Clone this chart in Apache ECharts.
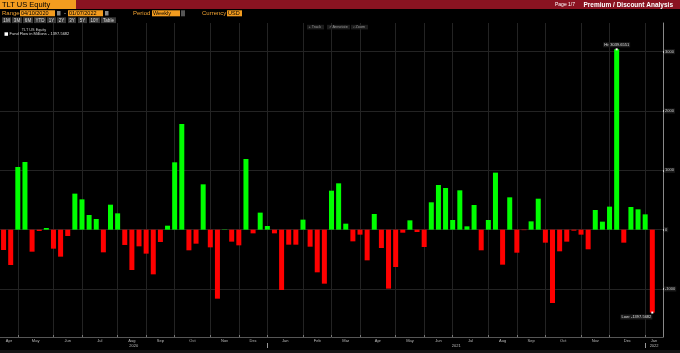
<!DOCTYPE html>
<html><head><meta charset="utf-8">
<script src="https://cdn.jsdelivr.net/npm/echarts@6/dist/echarts.min.js"></script>
<style>html,body{margin:0;padding:0;background:#000;}#c{width:680px;height:353px;}</style>
</head><body><div id="c"></div>
<script>
// ---- data ----
const startDate = '2020-04-10';           // first weekly bar (Friday)
const flows = [
  -343, -596, 1056, 1140, -371, -22, 28, -320, -455, -107,
  607, 511, 247, 180, -382, 421, 275, -258, -680, -281,
  -404, -753, -208, 67, 1135, 1781, -348, -236, 764, -298,
  -1163, 5, -202, -264, 1191, -62, 287, 62, -62, -1017,
  -253, -253, 169, -287, -719, -910, 657, 781, 101, -197,
  -84, -517, 264, -309, -994, -629, -51, 157, -39, -292,
  461, 753, 702, 163, 663, 56, 416, -348, 163, 961,
  -590, 545, -388, -8, 140, 522, -219, -1236, -365, -202,
  -17, -84, -331, 331, 135, 388, 3039.6551, -219, 382, 343,
  258, -1397.5682
];
const yTicks = [-1000, 0, 1000, 2000, 3000];
const monthNames = ['Jan','Feb','Mar','Apr','May','Jun','Jul','Aug','Sep','Oct','Nov','Dec'];
const periodButtons = ['1M','3M','6M','YTD','1Y','2Y','3Y','5Y','10Y','Table'];
const legendTitle = 'TLT US Equity';
const legendText = 'Fund Flow in Millions - 1397.5682';

// ---- derived categories (weekly, one spare slot at the end) ----
const DAY = 86400000;
const t0 = new Date(startDate + 'T00:00:00Z').getTime();
const dates = [];
for (let i = 0; i < flows.length + 1; i++) dates.push(new Date(t0 + i * 7 * DAY));
const cats = dates.map(d => d.toISOString().slice(0, 10));
const N = cats.length;

const monthBounds = [], yearBounds = [];
for (let i = 0; i < N - 1; i++) {
  if (dates[i + 1].getUTCMonth() !== dates[i].getUTCMonth()) monthBounds.push(i);
  if (dates[i + 1].getUTCFullYear() !== dates[i].getUTCFullYear()) yearBounds.push(i);
}
function spans(bounds, nameOf) {
  const b = [-0.5].concat(bounds, [N - 0.5]);
  const mids = [], map = {};
  for (let k = 0; k < b.length - 1; k++) {
    const m = (b[k] + b[k + 1]) / 2;
    mids.push(m);
    map[String(m)] = nameOf(dates[Math.floor(b[k]) + 1]);
  }
  return { mids, map };
}
const months = spans(monthBounds, d => monthNames[d.getUTCMonth()]);
const years = spans(yearBounds, d => String(d.getUTCFullYear()));

const FF = '"Liberation Sans", Arial, sans-serif';
const chart = echarts.init(document.getElementById('c'));
const gridRect = { left: 0, right: 17, top: 23, bottom: 16, containLabel: false, outerBoundsMode: 'none' };

// ---- header graphics ----
const g = [];
function rect(x, y, w, h, fill) { g.push({ type: 'rect', z: 100, shape: { x, y, width: w, height: h }, style: { fill } }); }
function text(x, y, s, font, fill, align) { g.push({ type: 'text', z: 101, x, y, style: { text: s, font, fill, align: align || 'left', verticalAlign: 'middle' } }); }
rect(0, 0, 680, 9, '#8a1321');
rect(0, 0, 76, 9, '#f39c1f');
text(2, 4.8, 'TLT US Equity', '7.5px ' + FF, '#000');
text(575, 5, 'Page 1/7', '5px ' + FF, '#fff', 'right');
text(673, 4.8, 'Premium / Discount Analysis', 'bold 6.5px ' + FF, '#fff', 'right');
// row 2
const ORANGE_TXT = '#f0a232';
text(2, 13.2, 'Range', '6px ' + FF, ORANGE_TXT);
rect(20, 10.3, 35, 6, '#f39c1f'); text(21, 13.4, '04/10/2020', '5.5px ' + FF, '#000');
rect(57, 11, 3.5, 4.5, '#888');
text(64, 13.2, '-', '6px ' + FF, '#ccc');
rect(68, 10.3, 35, 6, '#f39c1f'); text(69, 13.4, '01/07/2022', '5.5px ' + FF, '#000');
rect(105, 11, 3.5, 4.5, '#888');
text(133, 13.2, 'Period', '6px ' + FF, ORANGE_TXT);
rect(152, 10.3, 28, 6, '#f39c1f'); text(153, 13.4, 'Weekly', '5.5px ' + FF, '#000');
rect(181, 10.3, 4, 6, '#555');
text(202, 13.2, 'Currency', '6px ' + FF, ORANGE_TXT);
rect(227, 10.3, 15, 6, '#f39c1f'); text(228, 13.4, 'USD', '5.5px ' + FF, '#000');
// row 3 buttons
const btnX = [2, 12, 23, 34, 47, 57, 68, 78, 89, 101];
const btnW = [9, 10, 10, 12, 9, 9, 8, 9, 11, 15];
periodButtons.forEach((b, i) => {
  rect(btnX[i], 17.3, btnW[i], 5.8, '#3a3a3a');
  g.push({ type: 'text', z: 101, x: btnX[i] + btnW[i] / 2, y: 20.3, style: { text: b, font: '4.5px ' + FF, fill: '#ddd', align: 'center', verticalAlign: 'middle' } });
});
// legend
g.push({ type: 'text', z: 101, x: 34, y: 29.5, style: { text: legendTitle, font: '3.8px ' + FF, fill: '#ccc', align: 'center', verticalAlign: 'middle' } });
rect(4.5, 32.3, 3.5, 3.5, '#fff');
text(9.5, 34.2, legendText, '4px ' + FF, '#ddd');
// toolbar
[['+ Track', 307, 17], ['\u2713 Annotate', 327, 23], ['\u2315 Zoom', 351, 17]].forEach(([s, x, w]) => {
  rect(x, 24.8, w, 4.6, '#1c1c1c');
  text(x + 1.5, 27.2, s, '3.8px ' + FF, '#999');
});
rect(0, 350, 680, 3, '#141414');

const option = {
  backgroundColor: '#000',
  animation: false,
  grid: [Object.assign({}, gridRect), Object.assign({}, gridRect)],
  xAxis: [
    { type: 'category', gridIndex: 0, data: cats, position: 'top', show: false, boundaryGap: true },
    {
      type: 'value', gridIndex: 0, position: 'bottom', min: -0.5, max: N - 0.5,
      axisLine: { show: true, onZero: false, lineStyle: { color: '#555', width: 1 } },
      axisTick: { show: true, customValues: monthBounds, inside: true, length: 2, lineStyle: { color: '#777' } },
      splitLine: { show: true, lineStyle: { color: '#232323', width: 1 } },
      axisLabel: { customValues: months.mids, formatter: v => months.map[String(v)] || '', color: '#bbb', fontSize: 4, fontFamily: FF, margin: 2 }
    },
    {
      type: 'value', gridIndex: 1, position: 'bottom', offset: 6, min: -0.5, max: N - 0.5,
      axisLine: { show: false, onZero: false },
      axisTick: { show: true, customValues: yearBounds, length: 5, lineStyle: { color: '#999' } },
      splitLine: { show: false },
      axisLabel: { customValues: years.mids, formatter: v => years.map[String(v)] || '', color: '#bbb', fontSize: 4, fontFamily: FF, margin: 0.5 }
    }
  ],
  yAxis: [
    {
      type: 'value', gridIndex: 0, position: 'right', min: -1809, max: 3483,
      axisLine: { show: true, onZero: false, lineStyle: { color: '#888', width: 1 } },
      axisTick: { show: true, customValues: yTicks, length: 2, lineStyle: { color: '#eee', width: 1.5 } },
      splitLine: { show: true, lineStyle: { color: '#232323', width: 1 } },
      axisLabel: { customValues: yTicks, formatter: v => String(v), color: '#ccc', fontSize: 4, fontFamily: FF, margin: 1, backgroundColor: '#1a1a1a', padding: [0.5, 1] }
    },
    { type: 'value', gridIndex: 1, show: false, min: 0, max: 1, axisLine: { onZero: false } }
  ],
  series: [{
    type: 'bar', xAxisIndex: 0, yAxisIndex: 0, barWidth: 5,
    data: flows,
    itemStyle: { color: p => (p.value >= 0 ? '#00ff00' : '#ff0000') },
    markPoint: {
      symbol: 'rect', symbolSize: 2,
      itemStyle: { color: '#fff' },
      data: [
        { type: 'max', name: 'Hi', label: { show: true, position: 'top', distance: 1, formatter: p => 'Hi: ' + p.value } },
        { type: 'min', name: 'Low', label: { show: true, position: 'bottom', align: 'right', distance: 1, offset: [0, 0], formatter: p => 'Low: ' + p.value } }
      ],
      label: { color: '#ddd', fontSize: 4, fontFamily: FF, backgroundColor: '#1c1c1c', padding: [0.5, 1] }
    }
  }],
  graphic: g
};
chart.setOption(option);
</script></body></html>
